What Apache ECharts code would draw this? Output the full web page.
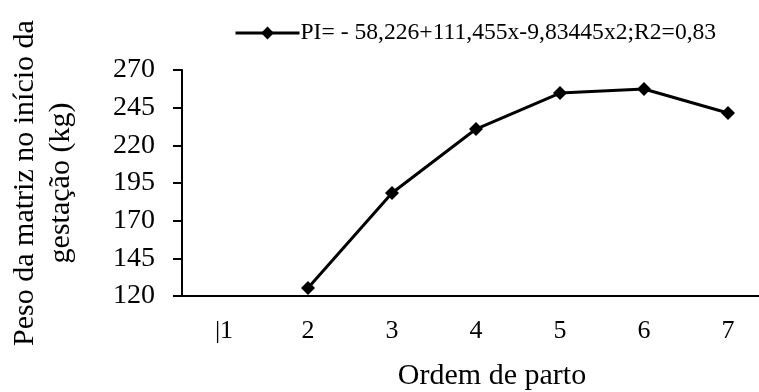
<!DOCTYPE html>
<html>
<head>
<meta charset="utf-8">
<script src="https://cdn.jsdelivr.net/npm/echarts@6/dist/echarts.min.js"></script>
<style>html,body{margin:0;padding:0;background:#fff}#c{width:759px;height:392px}</style>
</head>
<body>
<div id="c"></div>
<script>
const categories = ['|1', '2', '3', '4', '5', '6', '7'];
const pesoValues = [null, 125.3, 188.4, 230.8, 254.7, 257.4, 241.5];
const seriesName = 'PI= - 58,226+111,455x-9,83445x2;R2=0,83';
const yTicks = { min: 120, max: 270, interval: 25 };
const yAxisName = 'Peso da matriz no início da\ngestação (kg)';
const xAxisName = 'Ordem de parto';

const font = 'Liberation Serif';
const chart = echarts.init(document.getElementById('c'), null, { renderer: 'canvas' });
chart.setOption({
  animation: false,
  backgroundColor: '#fff',
  textStyle: { fontFamily: font, color: '#000' },
  legend: {
    left: 229, top: 16,
    itemWidth: 64, itemHeight: 16, itemGap: 4,
    lineStyle: { width: 3, color: '#000' },
    textStyle: { fontFamily: font, fontSize: 23.6, color: '#000', padding: [0, 0, 0, -4] },
    data: [seriesName]
  },
  grid: { left: 182, width: 588, top: 70, bottom: 96, containLabel: false, outerBoundsMode: 'none' },
  xAxis: {
    type: 'category',
    data: categories,
    boundaryGap: true,
    name: xAxisName,
    nameLocation: 'middle',
    nameGap: 65,
    nameTextStyle: { fontFamily: font, fontSize: 30, color: '#000', padding: [0, 0, 0, 32] },
    axisLine: { show: true, lineStyle: { color: '#000', width: 2 } },
    axisTick: { show: false },
    axisLabel: { fontFamily: font, fontSize: 26, color: '#000', margin: 22, interval: 0 },
    splitLine: { show: false }
  },
  yAxis: {
    type: 'value',
    min: yTicks.min, max: yTicks.max, interval: yTicks.interval,
    name: yAxisName,
    nameLocation: 'middle',
    nameGap: 103,
    nameTextStyle: { fontFamily: font, fontSize: 30, color: '#000', lineHeight: 36 },
    axisLine: { show: true, lineStyle: { color: '#000', width: 2 } },
    axisTick: { show: true, length: 9, lineStyle: { color: '#000', width: 2 } },
    axisLabel: { fontFamily: font, fontSize: 28, color: '#000', margin: 27 },
    splitLine: { show: false }
  },
  series: [{
    name: seriesName,
    type: 'line',
    data: pesoValues,
    symbol: 'diamond',
    symbolSize: 14,
    connectNulls: false,
    lineStyle: { color: '#000', width: 3 },
    itemStyle: { color: '#000' }
  }]
});
</script>
</body>
</html>
